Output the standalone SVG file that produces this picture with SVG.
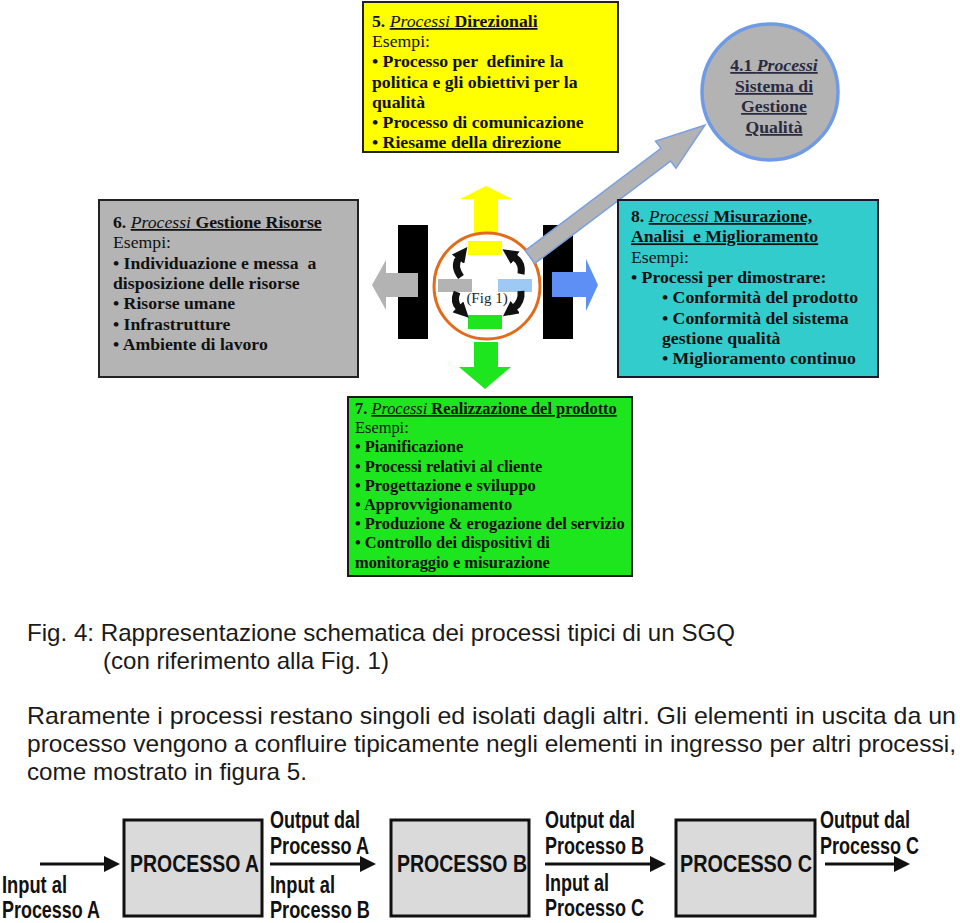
<svg xmlns="http://www.w3.org/2000/svg" width="960" height="923" viewBox="0 0 960 923">
<style>
.bx text{font-family:"Liberation Serif","Times New Roman",serif;font-size:17.7px;fill:#111}
.g7 text{font-size:16.4px}
.b{font-weight:bold}
.i{font-style:italic}
.u{text-decoration:underline}
.cap{font-family:"Liberation Sans",Arial,sans-serif;font-size:24px;fill:#1a1a1a}
.lb{font-family:"Liberation Sans",Arial,sans-serif;font-weight:bold;font-size:23px;fill:#111}
.pbox{fill:#dadada;stroke:#111;stroke-width:3}
.ln{stroke:#111;stroke-width:3;fill:none}
.hd{fill:#111}
.cw{fill:none;stroke:#111;stroke-width:7;stroke-linecap:butt}
</style>
<defs>
<marker id="ch" viewBox="0 0 10 10" refX="1" refY="5" markerWidth="2.2" markerHeight="2.2" orient="auto" markerUnits="strokeWidth"><path d="M0,0 L10,5 L0,10 z" fill="#111"/></marker>
</defs>
<rect width="960" height="923" fill="#fff"/>

<!-- central graphic -->
<g id="center">
<rect x="398" y="225" width="30" height="114" fill="#000"/>
<rect x="543" y="225" width="30" height="114" fill="#000"/>
<polygon points="418,273 386,273 386,260 372,285 386,310 386,297 418,297" fill="#b3b3b3"/>
<polygon points="552,272 586,272 586,259 598,285 586,311 586,297 552,297" fill="#5e8ff5"/>
<polygon points="474,236 474,199 460,199 486,186 512,199 498,199 498,236" fill="#ffff00"/>
<polygon points="474,342 474,367 459,367 485,389 511,367 498,367 498,342" fill="#1ee61e"/>
<circle cx="487" cy="286" r="53" fill="#fff" stroke="#e36c1c" stroke-width="3"/>
<rect x="468" y="241" width="34" height="14" fill="#ffff00"/>
<rect x="468" y="315" width="34" height="14" fill="#1ee61e"/>
<rect x="438" y="279" width="34" height="13" fill="#b3b3b3"/>
<rect x="498" y="279" width="34" height="13" fill="#9ccaf5"/>
<path class="cw" d="M461,277 Q453,266 459,258" marker-end="url(#ch)"/>
<path class="cw" d="M521,274 Q523,263 514,257" marker-end="url(#ch)"/>
<path class="cw" d="M457,292 Q453,302 459,308" marker-end="url(#ch)"/>
<path class="cw" d="M521,291 Q522,302 514,308" marker-end="url(#ch)"/>
<text x="487" y="303" text-anchor="middle" font-family="Liberation Serif,serif" font-size="15" fill="#222">(Fig 1)</text>
</g>

<!-- connector to 4.1 -->
<g id="connectors">
<polygon transform="translate(530,257) rotate(-37)" points="0,-8 170,-8 170,-17 219,0 170,17 170,8 0,8" fill="#b3b3b3" stroke="#7ba0e0" stroke-width="1.5"/>
</g>

<g id="n5" class="bx">
<rect x="363" y="2" width="255" height="150" fill="#ffff00" stroke="#222" stroke-width="2"/>
<text x="372" y="27"><tspan class="b">5. </tspan><tspan class="i u">Processi</tspan><tspan class="b u"> Direzionali</tspan></text>
<text x="372" y="47.2">Esempi:</text>
<text x="372" y="67.4" class="b" xml:space="preserve">• Processo per  definire la</text>
<text x="372" y="87.6" class="b">politica e gli obiettivi per la</text>
<text x="372" y="107.8" class="b">qualità</text>
<text x="372" y="128" class="b">• Processo di comunicazione</text>
<text x="372" y="148.2" class="b">• Riesame della direzione</text>
</g>

<g id="n41" class="bx">
<circle cx="770" cy="92" r="68" fill="#b3b3b3" stroke="#6f9be6" stroke-width="3.5"/>
<text x="774" y="71" text-anchor="middle" class="u" style="fill:#2a2a40"><tspan class="b">4.1 </tspan><tspan class="i b">Processi</tspan></text>
<text x="774" y="92" text-anchor="middle" class="b u" style="fill:#2a2a40">Sistema di</text>
<text x="774" y="112" text-anchor="middle" class="b u" style="fill:#2a2a40">Gestione</text>
<text x="774" y="133" text-anchor="middle" class="b u" style="fill:#2a2a40">Qualità</text>
</g>

<g id="n6" class="bx">
<rect x="99" y="200" width="259" height="177" fill="#b4b4b4" stroke="#222" stroke-width="2"/>
<text x="113" y="228"><tspan class="b">6. </tspan><tspan class="i u">Processi</tspan><tspan class="b u"> Gestione Risorse</tspan></text>
<text x="113" y="248.3">Esempi:</text>
<text x="113" y="268.6" class="b" xml:space="preserve">• Individuazione e messa  a</text>
<text x="113" y="288.9" class="b">disposizione delle risorse</text>
<text x="113" y="309.2" class="b">• Risorse umane</text>
<text x="113" y="329.5" class="b">• Infrastrutture</text>
<text x="113" y="349.8" class="b">• Ambiente di lavoro</text>
</g>

<g id="n8" class="bx">
<rect x="618" y="200" width="260" height="177" fill="#33cccc" stroke="#1a1a2a" stroke-width="2"/>
<text x="631" y="222"><tspan class="b">8. </tspan><tspan class="i u">Processi</tspan><tspan class="b u"> Misurazione,</tspan></text>
<text x="631" y="242.3" class="b u" xml:space="preserve">Analisi  e Miglioramento</text>
<text x="631" y="262.6">Esempi:</text>
<text x="631" y="282.9" class="b">• Processi per dimostrare:</text>
<text x="662" y="303.2" class="b">• Conformità del prodotto</text>
<text x="662" y="323.5" class="b">• Conformità del sistema</text>
<text x="662" y="343.8" class="b">gestione qualità</text>
<text x="662" y="364.1" class="b">• Miglioramento continuo</text>
</g>

<g id="n7" class="bx g7">
<rect x="348" y="397" width="284" height="179" fill="#1ee61e" stroke="#1a1a1a" stroke-width="2"/>
<text x="355" y="414"><tspan class="b">7. </tspan><tspan class="i u">Processi</tspan><tspan class="b u"> Realizzazione del prodotto</tspan></text>
<text x="355" y="433.2">Esempi:</text>
<text x="355" y="452.4" class="b">• Pianificazione</text>
<text x="355" y="471.6" class="b">• Processi relativi al cliente</text>
<text x="355" y="490.8" class="b">• Progettazione e sviluppo</text>
<text x="355" y="510" class="b">• Approvvigionamento</text>
<text x="355" y="529.2" class="b">• Produzione &amp; erogazione del servizio</text>
<text x="355" y="548.4" class="b">• Controllo dei dispositivi di</text>
<text x="355" y="567.6" class="b">monitoraggio e misurazione</text>
</g>

<g id="caption">
<text class="cap" x="27" y="641" textLength="708" lengthAdjust="spacingAndGlyphs">Fig. 4: Rappresentazione schematica dei processi tipici di un SGQ</text>
<text class="cap" x="103" y="669" textLength="286" lengthAdjust="spacingAndGlyphs">(con riferimento alla Fig. 1)</text>
<text class="cap" x="27" y="724" textLength="929" lengthAdjust="spacingAndGlyphs">Raramente i processi restano singoli ed isolati dagli altri. Gli elementi in uscita da un</text>
<text class="cap" x="27" y="752" textLength="929" lengthAdjust="spacingAndGlyphs">processo vengono a confluire tipicamente negli elementi in ingresso per altri processi,</text>
<text class="cap" x="27" y="780" textLength="280" lengthAdjust="spacingAndGlyphs">come mostrato in figura 5.</text>
</g>

<!-- figure 5 -->
<g id="pA">
<rect class="pbox" x="124" y="820" width="138" height="96"/>
<text class="lb" x="130" y="872" textLength="129" lengthAdjust="spacingAndGlyphs" font-size="24">PROCESSO A</text>
</g>
<g id="pB">
<rect class="pbox" x="391" y="820" width="138" height="96"/>
<text class="lb" x="397" y="872" textLength="130" lengthAdjust="spacingAndGlyphs" font-size="24">PROCESSO B</text>
</g>
<g id="pC">
<rect class="pbox" x="676" y="820" width="139" height="96"/>
<text class="lb" x="680" y="872" textLength="132" lengthAdjust="spacingAndGlyphs" font-size="24">PROCESSO C</text>
</g>
<g id="flow">
<line class="ln" x1="40" y1="864" x2="106" y2="864"/><polygon class="hd" points="104,856 120,864 104,872"/>
<line class="ln" x1="270" y1="864" x2="362" y2="864"/><polygon class="hd" points="360,856 376,864 360,872"/>
<line class="ln" x1="545" y1="864" x2="652" y2="864"/><polygon class="hd" points="650,856 666,864 650,872"/>
<line class="ln" x1="825" y1="864" x2="896" y2="864"/><polygon class="hd" points="894,856 910,864 894,872"/>
</g>
<g id="labels">
<text class="lb" x="2" y="893" textLength="65" lengthAdjust="spacingAndGlyphs" font-size="21">Input al</text>
<text class="lb" x="2" y="918" textLength="98" lengthAdjust="spacingAndGlyphs" font-size="21">Processo A</text>
<text class="lb" x="270" y="828" textLength="90" lengthAdjust="spacingAndGlyphs">Output dal</text>
<text class="lb" x="270" y="854" textLength="99" lengthAdjust="spacingAndGlyphs">Processo A</text>
<text class="lb" x="270" y="893" textLength="65" lengthAdjust="spacingAndGlyphs" font-size="21">Input al</text>
<text class="lb" x="270" y="918" textLength="100" lengthAdjust="spacingAndGlyphs" font-size="21">Processo B</text>
<text class="lb" x="545" y="828" textLength="90" lengthAdjust="spacingAndGlyphs">Output dal</text>
<text class="lb" x="545" y="854" textLength="99" lengthAdjust="spacingAndGlyphs">Processo B</text>
<text class="lb" x="545" y="891" textLength="64" lengthAdjust="spacingAndGlyphs">Input al</text>
<text class="lb" x="545" y="916" textLength="99" lengthAdjust="spacingAndGlyphs">Processo C</text>
<text class="lb" x="820" y="828" textLength="90" lengthAdjust="spacingAndGlyphs">Output dal</text>
<text class="lb" x="820" y="854" textLength="99" lengthAdjust="spacingAndGlyphs">Processo C</text>
</g>
</svg>
